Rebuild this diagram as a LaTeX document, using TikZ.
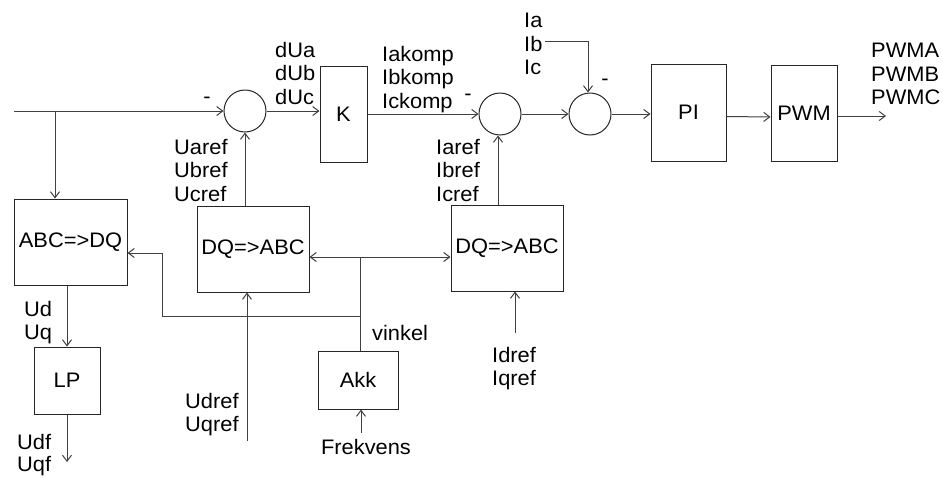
\documentclass[tikz,border=0pt]{standalone}
\usepackage{fontspec}
\setmainfont{Liberation Sans}[FakeStretch=1.04]
\usetikzlibrary{arrows.meta}
\begin{document}
\begin{tikzpicture}[x=1pt,y=-1pt,
  every node/.style={font=\fontsize{21}{23.5}\selectfont},
  blk/.style={draw=black!85, line width=1pt, inner sep=0pt},
  sumc/.style={circle, draw=black!85, line width=1pt, minimum size=42pt, inner sep=0pt},
  lbl/.style={align=left, inner sep=0pt, anchor=north west},
  wire/.style={draw=black!75, line width=1pt},
  conn/.style={wire, -{Straight Barb[length=6pt,width=9pt]}}]
\useasboundingbox (0,0) rectangle (943,477);
% boxes
\node[blk, minimum width=47pt, minimum height=96pt] (K) at (343.5,114) {K};
\node[blk, minimum width=75pt, minimum height=97pt] (PI) at (688.5,112.5) {PI};
\node[blk, minimum width=66pt, minimum height=96pt] (PWM) at (804,113) {PWM};
\node[blk, minimum width=113pt, minimum height=86pt] (ABC) at (70.5,242) {ABC=>DQ};
\node[blk, minimum width=112pt, minimum height=86pt] (DQ1) at (253,249) {DQ=>ABC};
\node[blk, minimum width=112pt, minimum height=86pt] (DQ2) at (507,248) {DQ=>ABC};
\node[blk, minimum width=66pt, minimum height=67pt] (LP) at (67,380.5) {LP};
\node[blk, minimum width=80pt, minimum height=58pt] (Akk) at (358,380) {Akk};
% summing junctions
\node[sumc] (S1) at (245,111) {};
\node[sumc] (S2) at (500,114) {};
\node[sumc] (S3) at (590,114) {};
% labels
\node[lbl] (lU) at (275,42) {dUa\\dUb\\dUc};
\node[lbl] (lIk) at (382,46) {Iakomp\\Ibkomp\\Ickomp};
\node[lbl] (lUr) at (174,139) {Uaref\\Ubref\\Ucref};
\node[lbl] (lIr) at (436,139) {Iaref\\Ibref\\Icref};
\node[lbl] (lI) at (524,13) {Ia\\Ib\\Ic};
\node[lbl] (lP) at (871,43) {PWMA\\PWMB\\PWMC};
\node[lbl] (lUd) at (24,301) {Ud\\Uq};
\node[lbl, font=\fontsize{21}{22}\selectfont] (lUf) at (17,434) {Udf\\Uqf};
\node[lbl] (lUdr) at (185,393) {Udref\\Uqref};
\node[lbl] (lIdr) at (492,347) {Idref\\Iqref};
\node[inner sep=0pt, anchor=west] (lv) at (372,333) {vinkel};
\node[inner sep=0pt] (lf) at (366,447) {Frekvens};
\node[inner sep=0pt] (m1) at (207,100) {-};
\node[inner sep=0pt] (m2) at (468,97) {-};
\node[inner sep=0pt] (m3) at (605,82) {-};
% free ends
\coordinate (in) at (14,111);
\coordinate (br) at (55,111);
\coordinate (ib) at (545,41);
\coordinate (pwmout) at (886,116);
\coordinate (lpout) at (67,462);
\coordinate (ud) at (247,441);
\coordinate (idr) at (515,333);
\coordinate (fr) at (361,433);
\coordinate (j) at (360,257);
\coordinate (j2) at (360,316);
\coordinate (t) at (162,316);
\coordinate (t2) at (162,253);
% connectors
\draw[conn] (in) -- (S1.west);
\draw[conn] (br) -- (br |- ABC.north);
\draw[conn] (S1.east) -- (S1.east -| K.west);
\draw[conn] (K.east |- S2.west) -- (S2.west);
\draw[conn] (S2.east) -- (S3.west);
\draw[conn] (S3.east) -- (S3.east -| PI.west);
\draw[conn] ([yshift=-4pt]PI.east) -- ([yshift=-4pt]PWM.west);
\draw[conn] (PWM.east |- pwmout) -- (pwmout);
\draw[conn] (ib) -| ([xshift=-2pt]S3.north);
\draw[conn] (S1.south |- DQ1.north) -- (S1.south);
\draw[conn] ([xshift=-2pt]S2.south |- DQ2.north) -- ([xshift=-2pt]S2.south);
\draw[conn] (LP.north |- ABC.south) -- (LP.north);
\draw[conn] (LP.south) -- (lpout);
\draw[conn] (ud) -- (ud |- DQ1.south);
\draw[conn] (idr) -- (idr |- DQ2.south);
\draw[conn] (fr) -- (fr |- Akk.south);
\draw[wire] (j |- Akk.north) -- (j);
\draw[conn] (j) -- (j -| DQ1.east);
\draw[conn] (j) -- (j -| DQ2.west);
\draw[conn] (j2) -- (t) -- (t2) -- (t2 -| ABC.east);
\end{tikzpicture}
\end{document}
